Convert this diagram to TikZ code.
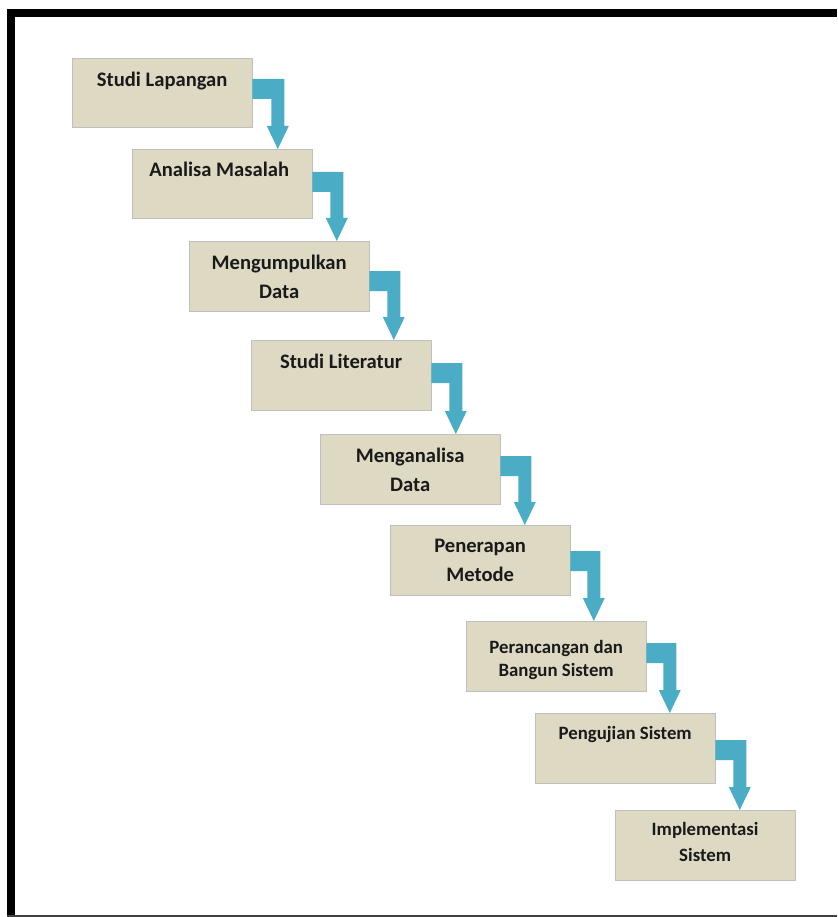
\documentclass[tikz,border=0pt]{standalone}
\usepackage{fontspec}
\setmainfont{Carlito}
\usetikzlibrary{calc}
\definecolor{boxfill}{HTML}{DDD9C3}
\definecolor{boxline}{HTML}{BFBFBF}
\definecolor{arrowc}{HTML}{4BACC6}
\definecolor{txt}{HTML}{1A1A1A}
\definecolor{frameline}{HTML}{404040}
\tikzset{
  stepbox/.style={rectangle, fill=boxfill, draw=boxline, line width=0.8pt,
    minimum width=179.5pt, minimum height=69.5pt, inner sep=0pt, anchor=north west},
  steptext/.style={font=\bfseries\fontsize{20.6}{29}\selectfont, text=txt,
    align=center, inner sep=0pt, anchor=base},
  steptextsmall/.style={steptext, font=\bfseries\fontsize{18.8}{26}\selectfont},
  steptexttight/.style={steptext, font=\bfseries\fontsize{18.8}{23}\selectfont},
}
\newcommand\stepconn[4]{%
  \fill[arrowc] let \p1=(#1.north east), \p2=(#2.north) in
   (\x1,\y1-#3pt) -- (\x1+#4pt,\y1-#3pt) -- (\x1+#4pt,\y2+23pt)
   -- (\x1+#4pt+4.5pt,\y2+23pt) -- (\x1+#4pt-6.5pt,\y2)
   -- (\x1+#4pt-17.5pt,\y2+23pt) -- (\x1+#4pt-13pt,\y2+23pt)
   -- (\x1+#4pt-13pt,\y1-#3pt-20pt) -- (\x1,\y1-#3pt-20pt) -- cycle;}
\begin{document}
\begin{tikzpicture}[x=1pt,y=-1pt]
\useasboundingbox (0,0) rectangle (837,917);
% frame
\fill[black] (7,9) rectangle (837,17);
\fill[black] (7,9) rectangle (15,916);
\fill[frameline] (7,915.3) rectangle (837,916.7);
% boxes
\node[stepbox] (b1) at (72,58) {};
\node[stepbox] (b2) at (132,149) {};
\node[stepbox] (b3) at (189,241) {};
\node[stepbox] (b4) at (251,340) {};
\node[stepbox] (b5) at (320,434) {};
\node[stepbox] (b6) at (390,525) {};
\node[stepbox] (b7) at (466,621) {};
\node[stepbox] (b8) at (535,713) {};
\node[stepbox] (b9) at (615,810) {};
% texts (anchor = baseline of the last line)
\node[steptext] (t1) at ($(b1.north)+(0,28.5)$) {Studi Lapangan};
\node[steptext] (t2) at ($(b2.north)+(-3,28)$) {Analisa Masalah};
\node[steptext] (t3) at ($(b3.north)+(0,57)$) {Mengumpulkan\\Data};
\node[steptext] (t4) at ($(b4.north)+(0,28)$) {Studi Literatur};
\node[steptext] (t5) at ($(b5.north)+(0,57.5)$) {Menganalisa\\Data};
\node[steptext] (t6) at ($(b6.north)+(0,56.5)$) {Penerapan\\Metode};
\node[steptexttight] (t7) at ($(b7.north)+(0,55.5)$) {Perancangan dan\\Bangun Sistem};
\node[steptextsmall] (t8) at ($(b8.north)+(0,26)$) {Pengujian Sistem};
\node[steptextsmall] (t9) at ($(b9.north)+(0,51)$) {Implementasi\\Sistem};
% connectors
\stepconn{b1}{b2}{21}{32}
\stepconn{b2}{b3}{23}{31}
\stepconn{b3}{b4}{30}{31}
\stepconn{b4}{b5}{23}{31}
\stepconn{b5}{b6}{22}{31}
\stepconn{b6}{b7}{26}{30}
\stepconn{b7}{b8}{22}{30}
\stepconn{b8}{b9}{27}{31}
\end{tikzpicture}
\end{document}
